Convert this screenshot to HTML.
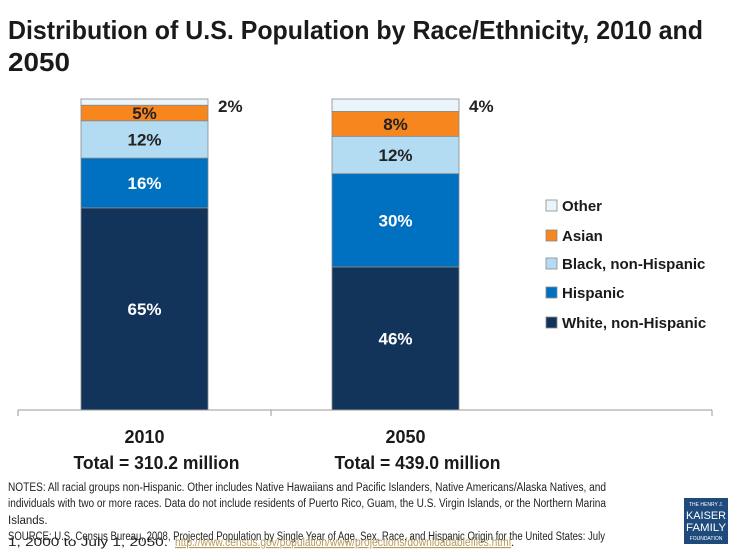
<!DOCTYPE html>
<html><head><meta charset="utf-8"><style>
body{margin:0;background:#fff;width:735px;height:551px;overflow:hidden;font-family:"Liberation Sans",sans-serif}
svg text{font-family:"Liberation Sans",sans-serif}
</style></head><body>
<svg id="chart" width="735" height="551" viewBox="0 0 735 551" xmlns="http://www.w3.org/2000/svg">
<text x="8" y="39" font-size="26" font-weight="bold" fill="#1a1a1a" textLength="695" lengthAdjust="spacingAndGlyphs">Distribution of U.S. Population by Race/Ethnicity, 2010 and</text>
<text x="8" y="71" font-size="26" font-weight="bold" fill="#1a1a1a" textLength="62" lengthAdjust="spacingAndGlyphs">2050</text>
<g id="bars"></g>
<line x1="18" y1="410" x2="712" y2="410" stroke="#999" stroke-width="1"/>
<line x1="18" y1="410" x2="18" y2="416" stroke="#999"/><line x1="271" y1="410" x2="271" y2="416" stroke="#999"/><line x1="712" y1="410" x2="712" y2="416" stroke="#999"/>
<g id="xlabels"></g>
<g id="legend"></g>
<text font-size="11.5" fill="#222">
<tspan x="8" y="491" textLength="598" lengthAdjust="spacingAndGlyphs">NOTES: All racial groups non-Hispanic. Other includes Native Hawaiians and Pacific Islanders, Native Americans/Alaska Natives, and</tspan>
<tspan x="8" y="507" textLength="598" lengthAdjust="spacingAndGlyphs">individuals with two or more races. Data do not include residents of Puerto Rico, Guam, the U.S. Virgin Islands, or the Northern Marina</tspan>
<tspan x="8" y="524">Islands.</tspan>
<tspan x="8" y="540" textLength="597" lengthAdjust="spacingAndGlyphs">SOURCE: U.S. Census Bureau, 2008, Projected Population by Single Year of Age, Sex, Race, and Hispanic Origin for the United States: July</tspan>
</text>
<text font-size="11.5" fill="#222"><tspan x="8" y="556" dy="-10" textLength="160" lengthAdjust="spacingAndGlyphs">1, 2000 to July 1, 2050.</tspan></text>
<text x="175" y="546" font-size="11.5" fill="#b29a5e" text-decoration="underline" textLength="336" lengthAdjust="spacingAndGlyphs">http://www.census.gov/population/www/projections/downloadablefiles.html</text>
<text x="511" y="546" font-size="11.5" fill="#222">.</text>
<g>
<rect x="684" y="498" width="44" height="46" fill="#1f4a7c"/>
<text x="706" y="506" font-size="5" fill="#fff" text-anchor="middle" font-family="Liberation Serif">THE HENRY J.</text>
<text x="706" y="519" font-size="11" fill="#fff" text-anchor="middle" font-family="Liberation Serif" textLength="40" lengthAdjust="spacingAndGlyphs">KAISER</text>
<text x="706" y="531" font-size="11" fill="#fff" text-anchor="middle" font-family="Liberation Serif" textLength="40" lengthAdjust="spacingAndGlyphs">FAMILY</text>
<text x="706" y="540" font-size="5" fill="#fff" text-anchor="middle" font-family="Liberation Serif">FOUNDATION</text>
</g>
</svg>
<script>
const categories = ["2010","2050"];
const totals = ["Total = 310.2 million","Total = 439.0 million"];
const seriesNames = ["White, non-Hispanic","Hispanic","Black, non-Hispanic","Asian","Other"];
const white = [65,46];
const hispanic = [16,30];
const black = [12,12];
const asian = [5,8];
const other = [2,4];
const seriesValues = [white,hispanic,black,asian,other];
const colors = ["#12335a","#0070c0","#b3dcf3","#f7861f","#eaf5fb"];
const labelColors = ["#fff","#fff","#222","#222","#222"];
const NS="http://www.w3.org/2000/svg";
const baseY=410, plotH=311;
const yScale=v=>v/100*plotH;
const xLeft=i=>81+i*251, barW=127;
function mk(tag,attrs,parent){const e=document.createElementNS(NS,tag);for(const k in attrs)e.setAttribute(k,attrs[k]);parent.appendChild(e);return e;}
const bars=document.getElementById('bars');
categories.forEach((c,i)=>{
  let cum=0;
  seriesValues.forEach((s,j)=>{
    const v=s[i];const y0=baseY-yScale(cum+v);const h=yScale(v);
    const r=mk('rect',{x:xLeft(i),y:y0,width:barW,height:h,fill:colors[j],stroke:'#8a8a8a','stroke-width':0.8},bars);
    
    
    let t;
    if(j===4){
      t=mk('text',{x:xLeft(i)+barW+10,y:y0+13,'font-size':17,'font-weight':'bold',fill:'#222'},bars);
    } else {
      t=mk('text',{x:xLeft(i)+barW/2,y:y0+h/2+6,'font-size':17,'font-weight':'bold',fill:labelColors[j],'text-anchor':'middle'},bars);
    }
    t.textContent=v+'%';
    
    
    cum+=v;
  });
});
const xl=document.getElementById('xlabels');
categories.forEach((c,i)=>{
  const cx=xLeft(i)+barW/2+(i?10:0);
  const a=mk('text',{x:cx,y:443,'font-size':18,'font-weight':'bold',fill:'#1a1a1a','text-anchor':'middle'},xl);
  a.textContent=c;
  
  
  const b=mk('text',{x:cx+12,y:469,'font-size':18,'font-weight':'bold',fill:'#1a1a1a','text-anchor':'middle',textLength:166,lengthAdjust:'spacingAndGlyphs'},xl);
  b.textContent=totals[i];
  
  
});
const lg=document.getElementById('legend');
const legY=[323,293,264,236,206];
seriesNames.forEach((n,j)=>{
  const g=mk('g',{},lg);
  
  
  mk('rect',{x:546,y:legY[j]-6,width:11,height:11,fill:colors[j],stroke:'#8a8a8a','stroke-width':0.8},g);
  const t=mk('text',{x:562,y:legY[j]+5,'font-size':15,'font-weight':'bold',fill:'#1a1a1a'},g);
  t.textContent=n;
});
</script>
</body></html>
